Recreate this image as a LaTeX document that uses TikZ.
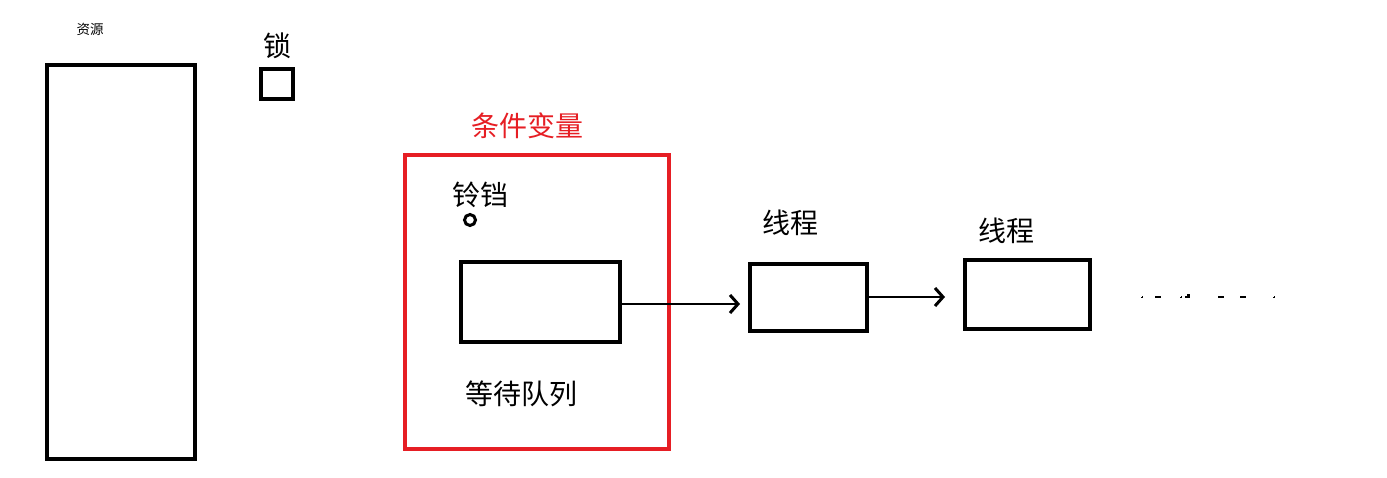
\documentclass[tikz,border=0pt]{standalone}
\usepackage{fontspec}
\newfontfamily\cjk{Noto Sans CJK SC}
\usetikzlibrary{arrows.meta}
\definecolor{cvred}{RGB}{230,30,36}
\tikzset{
  box/.style={draw=black,line width=4pt,fill=none},
  lbl/.style={font=\cjk\fontsize{28}{32}\selectfont,inner sep=0pt,anchor=center},
  conn/.style={line width=2pt,-{Straight Barb[length=8pt,width=18pt,line width=3pt]}},
  dotmark/.style={fill=black,draw=none}
}
\begin{document}
\begin{tikzpicture}[x=1pt,y=-1pt]
\useasboundingbox (0,0) rectangle (1387,477);
% resource
\node[font=\cjk\fontsize{13.5}{15}\selectfont,inner sep=0pt] (reslbl) at (90,29) {资源};
\draw[box] (47,65) rectangle (195,459);
% lock
\node[lbl] (locklbl) at (277,46) {锁};
\draw[box] (261,69) rectangle (293,99);
% condition variable
\node[lbl,text=cvred] (cvlbl) at (527,126) {条件变量};
\draw[draw=cvred,line width=3.5pt] (405,155) rectangle (669,449);
\node[lbl] (belllbl) at (480,195) {铃铛};
\draw[line width=3pt] (470,220) circle (5.5);
\node[draw=black,line width=4pt,minimum width=159pt,minimum height=80pt,inner sep=0pt] (queue) at (540.5,302) {};
\node[lbl] (queuelbl) at (521,394) {等待队列};
% threads
\node[draw=black,line width=4pt,minimum width=117pt,minimum height=67pt,inner sep=0pt] (t1) at (808.5,297.5) {};
\node[lbl] (t1lbl) at (790,223) {线程};
\node[draw=black,line width=4pt,minimum width=125pt,minimum height=69pt,inner sep=0pt] (t2) at (1027.5,294.5) {};
\node[lbl] (t2lbl) at (1006,231) {线程};
% connectors
\draw[conn] (queue.east |- 0,304) -- (740,304) coordinate (a1);
\draw[conn] (t1.east |- 0,297) -- (945,297) coordinate (a2);
% trailing dots
\fill[dotmark] (1141,296.5) rectangle (1143,297.5);
\fill[dotmark] (1141.5,296) rectangle (1142.5,298);
\fill[dotmark] (1155,296) rectangle (1161,298);
\fill[dotmark] (1180,296.5) rectangle (1182,297.5);
\fill[dotmark] (1180.5,296) rectangle (1181.5,298);
\fill[dotmark] (1185,296) rectangle (1190,298);
\fill[dotmark] (1187,294) rectangle (1190,296);
\fill[dotmark] (1218,296) rectangle (1224,298);
\fill[dotmark] (1240,296) rectangle (1246,298);
\fill[dotmark] (1273,296.5) rectangle (1275,297.5);
\fill[dotmark] (1273.5,296) rectangle (1274.5,298);
\end{tikzpicture}
\end{document}
